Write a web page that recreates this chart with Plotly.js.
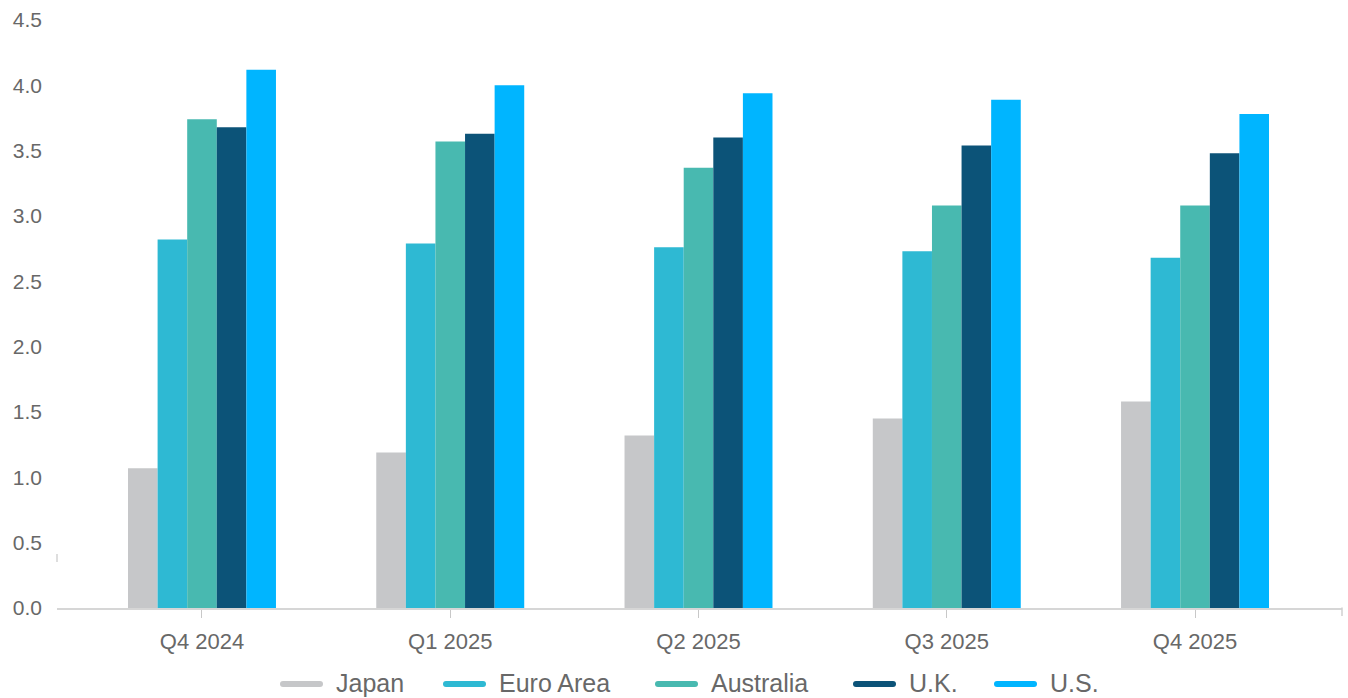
<!DOCTYPE html>
<html>
<head>
<meta charset="utf-8">
<script src="https://cdn.plot.ly/plotly-3.0.1.min.js"></script>
<style>html,body{margin:0;padding:0;background:#fff;}#chart{width:1348px;height:698px;}</style>
</head>
<body>
<div id="chart"></div>
<script>
const categories = ["Q4 2024", "Q1 2025", "Q2 2025", "Q3 2025", "Q4 2025"];
const seriesNames = ["Japan", "Euro Area", "Australia", "U.K.", "U.S."];
const japan     = [1.07, 1.19, 1.32, 1.45, 1.58];
const euroArea  = [2.82, 2.79, 2.76, 2.73, 2.68];
const australia = [3.74, 3.57, 3.37, 3.08, 3.08];
const uk        = [3.68, 3.63, 3.60, 3.54, 3.48];
const us        = [4.12, 4.00, 3.94, 3.89, 3.78];
const seriesValues = [japan, euroArea, australia, uk, us];
const colors = ["#C6C7C9", "#2EB9D3", "#48B9B0", "#0C5378", "#00B5FF"];
const yTicks = [0, 0.5, 1, 1.5, 2, 2.5, 3, 3.5, 4, 4.5];

const W = 1348, H = 698;
const M = {l: 57, r: 6, t: 20, b: 90};
const plotW = W - M.l - M.r, plotH = H - M.t - M.b;
const px2x = p => (p - M.l) / plotW;
const py2y = p => (H - M.b - p) / plotH;

const font = "Liberation Sans, Arial, Helvetica, sans-serif";
const textColor = "#686868";

const traces = seriesNames.map((name, i) => ({
  type: "bar",
  name: name,
  x: categories,
  y: seriesValues[i],
  marker: {color: colors[i], line: {width: 0}},
  showlegend: false,
  hoverinfo: "x+y+name"
}));

// custom legend (line symbols + labels)
const legendLineX = [280, 443, 655, 853, 994];
const legendY = 684;
const shapes = [];
const annotations = [];
seriesNames.forEach((name, i) => {
  shapes.push({
    type: "path", xref: "paper", yref: "paper",
    xsizemode: "pixel", ysizemode: "pixel",
    xanchor: px2x(legendLineX[i]), yanchor: py2y(legendY),
    path: "M3,-3 L40,-3 Q43,-3 43,0 Q43,3 40,3 L3,3 Q0,3 0,0 Q0,-3 3,-3 Z",
    fillcolor: colors[i], line: {width: 0}
  });
  annotations.push({
    xref: "paper", yref: "paper",
    x: px2x(legendLineX[i] + 55), y: py2y(legendY - 1),
    xanchor: "left", yanchor: "middle",
    borderpad: 0,
    text: name, showarrow: false,
    font: {family: font, size: 25, color: textColor}
  });
});
// right-end axis tick and small left mark
shapes.push({type: "line", xref: "paper", yref: "paper",
  x0: 1, x1: 1, y0: py2y(607.5), y1: py2y(616),
  line: {color: "#d0d0d0", width: 1.5}});
shapes.push({type: "line", xref: "paper", yref: "paper",
  x0: px2x(57), x1: px2x(57), y0: py2y(554), y1: py2y(562),
  line: {color: "#c8c8c8", width: 1.2}});

const layout = {
  width: W, height: H,
  margin: M,
  paper_bgcolor: "#ffffff",
  plot_bgcolor: "#ffffff",
  barmode: "group",
  bargap: 0.404,
  bargroupgap: 0,
  showlegend: false,
  font: {family: font, color: textColor},
  xaxis: {
    type: "category",
    range: [-0.584, 4.592],
    showgrid: false,
    zeroline: false,
    showline: true,
    linecolor: "#d6d6d6",
    linewidth: 1.5,
    ticks: "outside",
    ticklen: 8,
    tickwidth: 1.2,
    tickcolor: "#c8c8c8",
    ticklabelstandoff: 5,
    tickfont: {family: font, size: 22, color: textColor},
    fixedrange: true
  },
  yaxis: {
    range: [0, 4.5],
    tickvals: yTicks,
    ticktext: yTicks.map(v => v.toFixed(1)),
    showgrid: false,
    zeroline: false,
    showline: false,
    ticks: "",
    ticklabelstandoff: 14,
    tickfont: {family: font, size: 21, color: textColor},
    fixedrange: true
  },
  shapes: shapes,
  annotations: annotations
};

Plotly.newPlot("chart", traces, layout, {displayModeBar: false, staticPlot: false});
</script>
</body>
</html>
